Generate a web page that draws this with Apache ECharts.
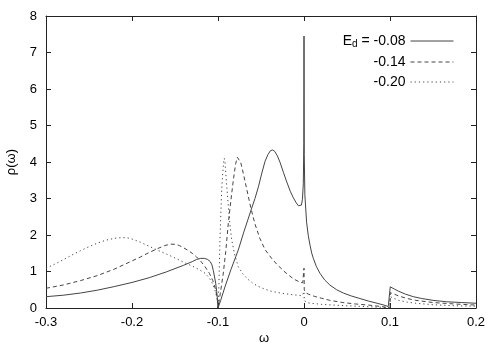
<!DOCTYPE html>
<html>
<head>
<meta charset="utf-8">
<script src="https://cdn.jsdelivr.net/npm/echarts@6/dist/echarts.min.js"></script>
<style>html,body{margin:0;padding:0;background:#fff}#c{width:500px;height:350px}</style>
</head>
<body>
<div id="c"></div>
<script>
// ---- data ----
const seriesNames = ['-0.08', '-0.14', '-0.20'];
const xTickLabels = ['-0.3', '-0.2', '-0.1', '0', '0.1', '0.2'];
const yTickLabels = ['0', '1', '2', '3', '4', '5', '6', '7', '8'];

// E_d = -0.08 (solid)
const omegaA = [-0.30, -0.28, -0.26, -0.24, -0.22, -0.20, -0.18, -0.16, -0.14, -0.13, -0.125, -0.12, -0.116, -0.112, -0.109, -0.107, -0.1055, -0.104, -0.1027, -0.1015, -0.1005, -0.1,
  -0.097, -0.0919, -0.085, -0.0764, -0.07, -0.0616, -0.057, -0.053, -0.049, -0.0453, -0.042, -0.039, -0.0365, -0.034, -0.031, -0.028, -0.024, -0.02, -0.016, -0.0124, -0.009, -0.0065, -0.0047, -0.003, -0.0018, -0.0008, -0.0002, 0,
  0.0003, 0.001, 0.003, 0.005, 0.007, 0.009, 0.011, 0.0145, 0.0186, 0.024, 0.03, 0.038, 0.0457, 0.055, 0.065, 0.075, 0.085, 0.093, 0.098, 0.1,
  0.1003, 0.105, 0.11, 0.118, 0.127, 0.137, 0.15, 0.166, 0.183, 0.2];
const rhoA = [0.31, 0.35, 0.41, 0.49, 0.59, 0.70, 0.83, 0.99, 1.17, 1.27, 1.33, 1.36, 1.36, 1.33, 1.27, 1.18, 1.03, 0.85, 0.68, 0.45, 0.20, 0.0,
  0.20, 0.58, 1.05, 1.59, 2.08, 2.68, 3.00, 3.32, 3.70, 4.02, 4.20, 4.31, 4.33, 4.29, 4.17, 4.00, 3.72, 3.45, 3.20, 3.02, 2.88, 2.80, 2.77, 2.82, 2.98, 3.40, 4.50, 7.45,
  4.20, 3.10, 2.35, 1.98, 1.72, 1.50, 1.35, 1.13, 0.95, 0.77, 0.63, 0.50, 0.41, 0.33, 0.26, 0.19, 0.13, 0.08, 0.04, 0.0,
  0.58, 0.52, 0.46, 0.38, 0.31, 0.26, 0.21, 0.17, 0.15, 0.13];

// E_d = -0.14 (dashed)
const omegaB = [-0.30, -0.28, -0.26, -0.24, -0.22, -0.20, -0.19, -0.18, -0.17, -0.162, -0.155, -0.148, -0.145, -0.14, -0.135, -0.13, -0.125, -0.12, -0.115, -0.11, -0.106, -0.103, -0.101, -0.1,
  -0.097, -0.0938, -0.091, -0.088, -0.085, -0.0822, -0.0795, -0.0775, -0.076, -0.0735, -0.0706, -0.067, -0.0616, -0.057, -0.0512, -0.0453, -0.038, -0.0317, -0.022, -0.0124, -0.005, -0.0015, 0,
  0.0003, 0.002, 0.005, 0.012, 0.02, 0.03, 0.045, 0.06, 0.075, 0.09, 0.1,
  0.1003, 0.105, 0.11, 0.12, 0.13, 0.15, 0.175, 0.2];
const rhoB = [0.54, 0.63, 0.75, 0.89, 1.07, 1.29, 1.40, 1.52, 1.63, 1.71, 1.75, 1.74, 1.71, 1.65, 1.58, 1.50, 1.40, 1.28, 1.13, 0.95, 0.75, 0.52, 0.30, 0.0,
  0.45, 0.96, 1.55, 2.32, 2.95, 3.50, 3.95, 4.13, 4.12, 3.98, 3.69, 3.30, 2.72, 2.30, 1.90, 1.60, 1.37, 1.20, 0.98, 0.80, 0.71, 0.69, 1.09,
  0.50, 0.42, 0.38, 0.32, 0.27, 0.21, 0.15, 0.11, 0.08, 0.04, 0.0,
  0.42, 0.38, 0.33, 0.26, 0.21, 0.15, 0.11, 0.08];

// E_d = -0.20 (dotted)
const omegaC = [-0.30, -0.29, -0.28, -0.27, -0.26, -0.25, -0.24, -0.23, -0.22, -0.212, -0.205, -0.20, -0.19, -0.179, -0.17, -0.16, -0.15, -0.144, -0.137, -0.13, -0.121, -0.115, -0.11, -0.106, -0.103, -0.101, -0.1,
  -0.099, -0.0977, -0.0967, -0.0957, -0.0945, -0.0935, -0.0927, -0.0918, -0.091, -0.0895, -0.088, -0.086, -0.084, -0.0805, -0.0764, -0.071, -0.0648, -0.059, -0.053, -0.046, -0.04, -0.032, -0.025, -0.012, -0.002, 0,
  0.0003, 0.005, 0.02, 0.05, 0.08, 0.099, 0.1,
  0.1003, 0.105, 0.11, 0.12, 0.13, 0.15, 0.175, 0.2];
const rhoC = [1.09, 1.20, 1.32, 1.45, 1.57, 1.68, 1.78, 1.86, 1.91, 1.93, 1.92, 1.89, 1.80, 1.68, 1.58, 1.48, 1.37, 1.30, 1.22, 1.15, 1.04, 0.95, 0.82, 0.65, 0.45, 0.25, 0.0,
  0.60, 1.86, 2.60, 3.23, 3.70, 3.98, 4.10, 4.00, 3.70, 3.25, 2.78, 2.25, 1.86, 1.45, 1.13, 0.93, 0.78, 0.67, 0.59, 0.52, 0.47, 0.43, 0.40, 0.36, 0.34, 0.45,
  0.20, 0.14, 0.10, 0.06, 0.03, 0.01, 0.0,
  0.31, 0.26, 0.21, 0.16, 0.13, 0.09, 0.06, 0.05];

const toPairs = (xs, ys) => xs.map((x, i) => [x, ys[i]]);

const chart = echarts.init(document.getElementById('c'), null, {renderer: 'canvas'});
const FONT = '"Liberation Sans", Arial, Helvetica, sans-serif';
const axisCol = '#222';
const lineCol = '#444';

function fmtX(v) {
  const idx = Math.round((v + 0.3) / 0.1);
  return xTickLabels[idx] !== undefined ? xTickLabels[idx] : '';
}
function fmtY(v) {
  const idx = Math.round(v);
  return yTickLabels[idx] !== undefined ? yTickLabels[idx] : '';
}

const baseX = {
  type: 'value', min: -0.3, max: 0.2, interval: 0.1,
  axisLine: {show: true, onZero: false, lineStyle: {color: axisCol, width: 1}},
  axisTick: {show: true, inside: true, length: 5, lineStyle: {color: axisCol}},
  splitLine: {show: false}
};
const baseY = {
  type: 'value', min: 0, max: 8, interval: 1,
  axisLine: {show: true, onZero: false, lineStyle: {color: axisCol, width: 1}},
  axisTick: {show: true, inside: true, length: 5, lineStyle: {color: axisCol}},
  splitLine: {show: false}
};

const styles = ['solid', [4, 3], [1.2, 3]];
const datasets = [toPairs(omegaA, rhoA), toPairs(omegaB, rhoB), toPairs(omegaC, rhoC)];

chart.setOption({
  animation: false,
  backgroundColor: '#fff',
  grid: {left: 46, right: 24, top: 16, bottom: 42, containLabel: false},
  xAxis: [
    Object.assign({}, baseX, {position: 'bottom',
      axisLabel: {show: true, margin: 8, color: '#000', fontSize: 13, fontFamily: FONT, formatter: fmtX}}),
    Object.assign({}, baseX, {position: 'top', axisLabel: {show: false}})
  ],
  yAxis: [
    Object.assign({}, baseY, {position: 'left',
      axisLabel: {show: true, margin: 9, color: '#000', fontSize: 13, fontFamily: FONT, formatter: fmtY}}),
    Object.assign({}, baseY, {position: 'right', axisLabel: {show: false}})
  ],
  legend: {
    show: true,
    orient: 'vertical',
    align: 'right',
    right: 41,
    top: 29,
    itemWidth: 43,
    itemHeight: 14,
    itemGap: 6,
    itemStyle: {opacity: 0, borderWidth: 0},
    lineStyle: {width: 1, color: lineCol},
    textStyle: {
      color: '#000', fontSize: 14, fontFamily: FONT,
      rich: {
        sub: {fontSize: 10, verticalAlign: 'bottom', padding: [6, 0, 0, 0], color: '#000', fontFamily: FONT},
        n: {fontSize: 14, color: '#000', fontFamily: FONT}
      }
    },
    formatter: function (name) {
      return name === seriesNames[0] ? '{n|E}{sub|d}{n| = ' + name + '}' : '{n|' + name + '}';
    },
    data: seriesNames
  },
  series: seriesNames.map((n, i) => ({
    name: n,
    type: 'line',
    xAxisIndex: 0, yAxisIndex: 0,
    data: datasets[i],
    showSymbol: false,
    symbol: 'none',
    smooth: false,
    clip: true,
    lineStyle: {color: lineCol, width: 1, type: styles[i]},
    itemStyle: {color: lineCol},
    emphasis: {disabled: true}
  })),
  graphic: [
    {type: 'text', left: 5, top: 149, rotation: Math.PI / 2,
      style: {text: 'ρ(ω)', fontSize: 13, fontFamily: FONT, fill: '#000'}},
    {type: 'text', left: 259, top: 332,
      style: {text: 'ω', fontSize: 13, fontFamily: FONT, fill: '#000'}}
  ]
});
</script>
</body>
</html>
